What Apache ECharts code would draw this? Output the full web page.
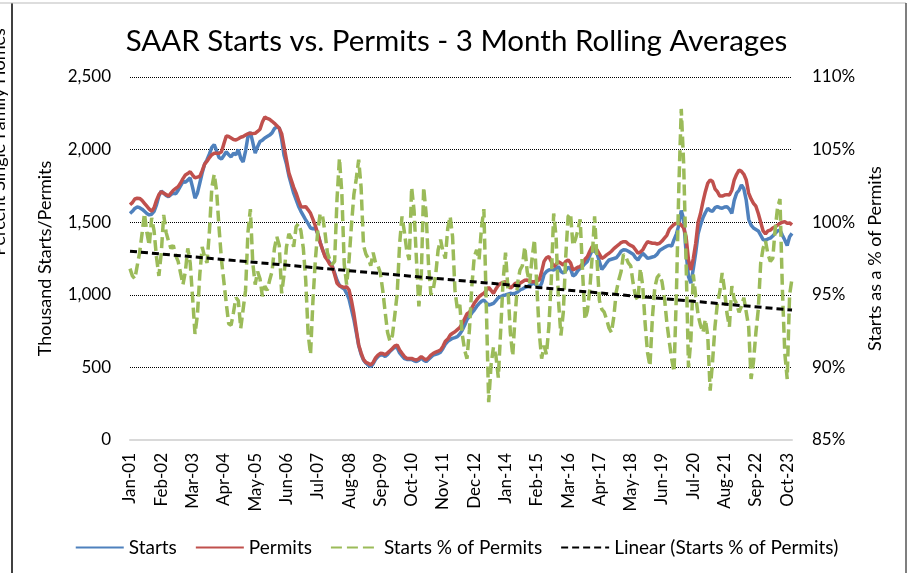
<!DOCTYPE html>
<html>
<head>
<meta charset="utf-8">
<title>SAAR Starts vs. Permits</title>
<script src="https://cdn.jsdelivr.net/npm/echarts@6/dist/echarts.min.js"></script>
<style>
  html, body { margin: 0; padding: 0; background: #fff; }
  #chart { width: 913px; height: 573px; }
</style>
</head>
<body>
<div id="chart"></div>
<script>
// month labels Jan-01 .. Dec-23
const monthNames = ['Jan', 'Feb', 'Mar', 'Apr', 'May', 'Jun', 'Jul', 'Aug', 'Sep', 'Oct', 'Nov', 'Dec']
const firstYear = 2001
const lastYear = 2023

// 3 month rolling SAAR, thousands
const starts = [
  1560, 1575, 1595, 1605, 1600, 1590, 1575, 1560, 1550, 1555, 1575, 1620,
  1680, 1715, 1700, 1685, 1676, 1690, 1700, 1695, 1720, 1750, 1780, 1775,
  1790, 1805, 1740, 1665, 1700, 1770, 1840, 1900, 1930, 1970, 2015, 2035,
  1990, 1945, 1935, 1960, 1985, 1965, 1950, 1975, 1965, 2000, 1940, 1915,
  1990, 2090, 2120, 2050, 1975, 2020, 2055, 2065, 2080, 2090, 2100, 2115,
  2145, 2155, 2150, 2070, 1960, 1900, 1820, 1760, 1700, 1655, 1610, 1575,
  1545, 1515, 1490, 1460, 1455, 1460, 1420, 1360, 1310, 1270, 1245, 1220,
  1200, 1150, 1100, 1065, 1050, 1040, 1010, 970, 900, 830, 740, 650,
  590, 550, 530, 515, 505, 525, 555, 575, 585, 585, 575, 590,
  610, 625, 640, 635, 600, 580, 560, 555, 555, 555, 545, 540,
  550, 565, 550, 540, 555, 570, 585, 590, 595, 605, 630, 660,
  680, 690, 700, 705, 712, 730, 755, 790, 830, 850, 875, 895,
  920, 940, 955, 964, 945, 930, 935, 941, 960, 980, 987, 995,
  999, 1005, 1010, 1008, 1010, 1020, 1033, 1040, 1050, 1056, 1065, 1075,
  1079, 1065, 1045, 1080, 1140, 1160, 1171, 1175, 1171, 1180, 1194, 1160,
  1150, 1165, 1190, 1180, 1130, 1140, 1165, 1182, 1195, 1215, 1230, 1270,
  1305, 1300, 1285, 1230, 1175, 1195, 1220, 1240, 1245, 1250, 1255, 1275,
  1300, 1310, 1309, 1300, 1290, 1280, 1255, 1240, 1265, 1285, 1270, 1251,
  1255, 1260, 1265, 1280, 1305, 1315, 1325, 1335, 1340, 1335, 1380, 1420,
  1480, 1580, 1520, 1290, 1125, 1080, 1180, 1290, 1420, 1480, 1530, 1565,
  1596, 1580, 1575, 1600, 1607, 1600, 1596, 1605, 1607, 1590, 1561, 1650,
  1700, 1720, 1756, 1730, 1650, 1520, 1480, 1460, 1450, 1440, 1410, 1380,
  1375, 1385, 1390, 1405, 1423, 1440, 1446, 1410, 1377, 1340, 1400, 1423
]

const permits = [
  1620, 1635, 1660, 1665, 1664, 1650, 1630, 1610, 1590, 1575, 1600, 1650,
  1690, 1710, 1700, 1690, 1680, 1700, 1720, 1733, 1745, 1770, 1800, 1825,
  1835, 1848, 1825, 1805, 1810, 1815, 1855, 1900, 1920, 1945, 1965, 1975,
  1975, 1974, 1985, 2040, 2094, 2090, 2080, 2070, 2066, 2075, 2085, 2090,
  2100, 2110, 2112, 2110, 2112, 2125, 2140, 2190, 2225, 2215, 2208, 2195,
  2181, 2165, 2147, 2110, 2020, 1930, 1840, 1790, 1740, 1700, 1650, 1607,
  1605, 1607, 1585, 1561, 1520, 1475, 1420, 1360, 1310, 1263, 1240, 1210,
  1194, 1140, 1079, 1062, 1056, 1050, 1056, 1033, 960, 870, 760, 655,
  600, 555, 535, 528, 517, 535, 565, 585, 597, 595, 588, 600,
  615, 630, 648, 654, 620, 597, 575, 562, 562, 562, 555, 551,
  560, 574, 562, 551, 565, 585, 597, 605, 612, 620, 645, 680,
  695, 723, 735, 745, 760, 775, 800, 835, 870, 880, 910, 941,
  965, 987, 1000, 1010, 1030, 1051, 1030, 1010, 1040, 1065, 1079, 1085,
  1090, 1070, 1045, 1060, 1079, 1080, 1079, 1090, 1100, 1102, 1095, 1090,
  1090, 1095, 1102, 1160, 1230, 1255, 1263, 1230, 1194, 1210, 1228, 1217,
  1205, 1230, 1240, 1220, 1171, 1180, 1190, 1194, 1215, 1245, 1263, 1300,
  1332, 1325, 1309, 1280, 1251, 1260, 1275, 1286, 1300, 1318, 1332, 1345,
  1360, 1366, 1366, 1350, 1340, 1332, 1310, 1286, 1295, 1309, 1340, 1366,
  1360, 1355, 1355, 1350, 1355, 1370, 1390, 1410, 1450, 1469, 1485, 1492,
  1495, 1480, 1460, 1400, 1240, 1171, 1250, 1355, 1500, 1560, 1640, 1710,
  1768, 1791, 1780, 1730, 1710, 1680, 1680, 1687, 1690, 1687, 1720, 1791,
  1830, 1859, 1850, 1830, 1791, 1700, 1660, 1630, 1610, 1560, 1500, 1440,
  1420, 1440, 1446, 1460, 1469, 1480, 1492, 1500, 1504, 1492, 1495, 1481
]

// starts as % of permits
const startsPct = [
  96.8, 96.3, 96.1, 97.0, 97.9, 99.2, 100.6, 99.3, 98.4, 100.3, 99.4, 97.6,
  96.3, 97.9, 100.5, 99.3, 98.7, 98.2, 98.4, 97.7, 97.3, 96.5, 95.7, 96.6,
  98.2, 97.2, 94.8, 92.3, 93.6, 96.4, 98.3, 97.6, 97.2, 99.4, 102.4, 103.3,
  102.1, 99.6, 97.4, 95.9, 94.4, 93.0, 92.9, 93.8, 94.8, 94.6, 92.7, 94.0,
  95.3, 99.3, 100.9, 97.2, 95.7, 96.6, 96.1, 94.9, 95.6, 95.3, 96.0, 96.6,
  98.2, 99.0, 98.4, 95.1, 96.4, 98.3, 99.2, 98.9, 98.3, 99.7, 99.9, 99.4,
  98.2, 96.0, 92.3, 90.9, 94.6, 97.4, 99.4, 100.6, 100.4, 99.3, 97.9, 97.4,
  97.1, 97.3, 101.6, 104.4, 102.0, 97.1, 95.7, 97.4, 99.8, 101.9, 103.0, 104.3,
  102.4, 98.4, 97.8, 97.5, 97.0, 97.9, 97.2, 97.0, 96.5, 95.3, 93.8, 92.4,
  91.8, 92.2, 93.6, 95.1, 98.5, 100.4, 99.3, 98.0, 97.4, 102.4, 100.8, 97.4,
  94.2, 96.3, 102.4, 100.6, 97.1, 95.0, 95.4, 96.4, 98.1, 98.8, 98.0, 97.5,
  99.6, 100.4, 99.0, 95.3, 94.0, 94.3, 92.3, 91.2, 90.6, 92.6, 95.6, 97.6,
  98.1, 97.4, 99.6, 100.9, 94.3, 87.6, 90.2, 91.4, 90.8, 89.3, 92.6, 96.0,
  97.9, 95.4, 92.4, 90.8, 93.6, 95.8, 96.7, 97.0, 98.3, 96.6, 95.8, 97.5,
  98.8, 95.6, 92.4, 90.6, 91.5, 90.9, 92.8, 96.0, 100.6, 99.0, 94.6, 92.2,
  93.8, 97.6, 100.4, 100.6, 98.4, 98.8, 99.4, 100.2, 96.6, 93.3, 93.9, 95.4,
  97.6, 100.4, 97.4, 94.6, 94.0, 93.8, 93.3, 92.7, 92.4, 93.5, 95.2, 96.0,
  96.6, 97.8, 97.6, 97.2, 97.0, 95.8, 94.9, 94.6, 96.8, 95.6, 93.0, 91.0,
  90.1, 93.4, 95.5, 96.2, 96.4, 95.9, 94.8, 93.1, 91.8, 90.6, 89.7, 95.2,
  102.5, 107.8, 104.0, 97.3, 90.0, 91.9, 96.4, 94.9, 93.6, 92.9, 92.4, 93.3,
  92.2, 88.4, 90.4, 92.8, 94.4, 95.2, 96.5, 95.3, 93.7, 92.8, 95.6, 94.7,
  94.4, 93.8, 94.2, 94.8, 93.8, 92.8, 89.2, 90.4, 92.4, 94.0, 97.2, 98.2,
  98.7, 97.8, 97.3, 97.5, 99.5, 101.0, 101.6, 95.4, 91.0, 89.2, 95.0, 96.1
]

// linear trendline: value at the first and last month
const trendEnds = [98.0, 93.95]

const categories = []
for (let y = firstYear; y <= lastYear; y++) {
  monthNames.forEach(m => categories.push(m + '-' + String(y % 100).padStart(2, '0')))
}

// straight segment between the two ends, nulls in between
const trend = categories.map(() => null)
trend[0] = trendEnds[0]
trend[categories.length - 1] = trendEnds[1]

const font = 'Lato, "Open Sans", sans-serif'
const myChart = echarts.init(document.getElementById('chart'))

myChart.setOption({
  animation: false,
  backgroundColor: '#fff',
  textStyle: { fontFamily: font, color: '#000' },
  title: {
    text: 'SAAR Starts vs. Permits - 3 Month Rolling Averages',
    left: 'center',
    top: 21,
    textStyle: { fontFamily: font, fontSize: 29.5, fontWeight: 'normal', color: '#000' }
  },
  graphic: [
    { type: 'line', shape: { x1: 12, y1: 3, x2: 12, y2: 573 }, style: { stroke: '#000', lineWidth: 1.5 } },
    { type: 'line', shape: { x1: 0, y1: 3, x2: 906, y2: 3 }, style: { stroke: '#bbb', lineWidth: 1 } },
    { type: 'line', shape: { x1: 906, y1: 3, x2: 906, y2: 573 }, style: { stroke: '#555', lineWidth: 1.5 } },
    {
      // axis title of a neighbouring chart, cut off by the window edge
      type: 'text', x: -1, y: 142, rotation: Math.PI / 2,
      style: { text: 'Percent Single Family Homes', fontFamily: font, fontSize: 18, fill: '#000', align: 'center', verticalAlign: 'middle' }
    }
  ],
  legend: {
    bottom: 11,
    left: 'center',
    itemWidth: 48,
    itemHeight: 12,
    itemGap: 18,
    itemStyle: { opacity: 0 },
    textStyle: { fontFamily: font, fontSize: 19, color: '#000' },
    data: ['Starts', 'Permits', 'Starts % of Permits', 'Linear (Starts % of Permits)']
  },
  grid: { left: 130, right: 121, top: 77, bottom: 133 },
  xAxis: {
    type: 'category',
    data: categories,
    boundaryGap: false,
    axisLine: { lineStyle: { color: '#d9d9d9', width: 2 } },
    axisTick: { show: false },
    axisLabel: { interval: 12, rotate: 90, margin: 13, fontSize: 17, color: '#000', fontFamily: font }
  },
  yAxis: [
    {
      type: 'value',
      min: 0,
      max: 2500,
      interval: 500,
      name: 'Thousand Starts/Permits',
      nameLocation: 'middle',
      nameRotate: 90,
      nameGap: 76,
      nameTextStyle: { fontSize: 18, color: '#000', fontFamily: font },
      axisLine: { show: false },
      axisTick: { show: false },
      axisLabel: {
        margin: 19, fontSize: 17, color: '#000', fontFamily: font,
        formatter: v => v.toLocaleString('en-US')
      },
      splitLine: { lineStyle: { color: '#000', type: 'dotted', width: 1 } }
    },
    {
      type: 'value',
      min: 85,
      max: 110,
      interval: 5,
      name: 'Starts as a % of Permits',
      nameLocation: 'middle',
      nameRotate: 90,
      nameGap: 73,
      nameTextStyle: { fontSize: 18, color: '#000', fontFamily: font },
      axisLine: { show: false },
      axisTick: { show: false },
      axisLabel: { margin: 20, fontSize: 17, color: '#000', fontFamily: font, formatter: '{value}%' },
      splitLine: { show: false }
    }
  ],
  series: [
    {
      name: 'Starts',
      type: 'line',
      data: starts,
      symbol: 'none',
      color: '#4f81bd',
      lineStyle: { width: 3.5, color: '#4f81bd' }
    },
    {
      name: 'Permits',
      type: 'line',
      data: permits,
      symbol: 'none',
      color: '#c0504d',
      lineStyle: { width: 3.5, color: '#c0504d' }
    },
    {
      name: 'Starts % of Permits',
      type: 'line',
      yAxisIndex: 1,
      data: startsPct,
      symbol: 'none',
      color: '#9bbb59',
      lineStyle: { width: 3.5, color: '#9bbb59', type: [11, 5] }
    },
    {
      name: 'Linear (Starts % of Permits)',
      type: 'line',
      yAxisIndex: 1,
      data: trend,
      connectNulls: true,
      symbol: 'none',
      color: '#000',
      lineStyle: { width: 3, color: '#000', type: [7, 4] }
    }
  ]
})
</script>
</body>
</html>
